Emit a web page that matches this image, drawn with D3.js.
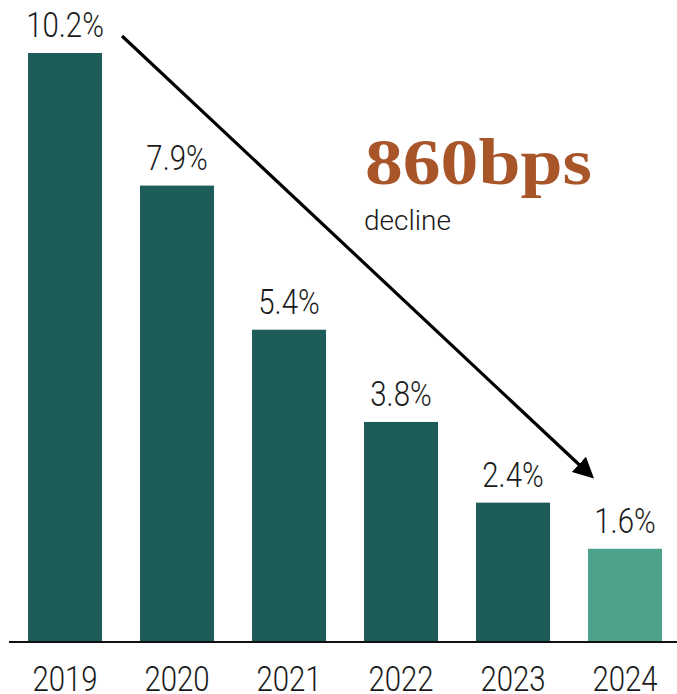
<!DOCTYPE html>
<html>
<head>
<meta charset="utf-8">
<script src="https://cdn.jsdelivr.net/npm/d3@7"></script>
<style>
  html, body { margin: 0; padding: 0; background: #fff; }
  svg { display: block; }
  text { font-family: "Roboto", "Open Sans", sans-serif; }
</style>
</head>
<body>
<svg id="chart" width="677" height="694"></svg>
<script>
// Yearly rate, percent
const years = ["2019", "2020", "2021", "2022", "2023", "2024"];
const rates = [10.2, 7.9, 5.4, 3.8, 2.4, 1.6];
const valueLabels = ["10.2%", "7.9%", "5.4%", "3.8%", "2.4%", "1.6%"];
const headline = "860bps";
const subline = "decline";

const labelSize = 35;
const labelSqueeze = 0.84; // narrow the light sans horizontally
const svg = d3.select("#chart");

const x = d3.scaleBand()
  .domain(years)
  .range([28, 662])
  .paddingInner(0.339)
  .paddingOuter(0);

const y = d3.scaleLinear()
  .domain([0, 10.2])
  .range([641, 53]);

const data = years.map((yr, i) => ({ year: yr, value: rates[i], label: valueLabels[i] }));
const cx = d => x(d.year) + x.bandwidth() / 2;

// Bars: latest year highlighted in a lighter green
svg.append("g").selectAll("rect")
  .data(data)
  .join("rect")
  .attr("x", d => x(d.year))
  .attr("y", d => y(d.value))
  .attr("width", x.bandwidth())
  .attr("height", d => y(0) - y(d.value))
  .attr("fill", (d, i) => i === data.length - 1 ? "#4da28c" : "#1e5c59");

// Value labels above bars
svg.append("g").selectAll("text")
  .data(data)
  .join("text")
  .attr("transform", d => `translate(${cx(d)},${y(d.value) - 16}) scale(${labelSqueeze},1)`)
  .attr("text-anchor", "middle")
  .attr("font-size", labelSize)
  .attr("font-weight", 300)
  .attr("fill", "#1a1a1a")
  .text(d => d.label);

// Year labels under the baseline
svg.append("g").selectAll("text")
  .data(x.domain())
  .join("text")
  .attr("transform", d => `translate(${x(d) + x.bandwidth() / 2},${y(0) + 50}) scale(${labelSqueeze},1)`)
  .attr("text-anchor", "middle")
  .attr("font-size", labelSize)
  .attr("font-weight", 300)
  .attr("fill", "#1a1a1a")
  .text(d => d);

svg.append("line")
  .attr("x1", 9).attr("x2", 677)
  .attr("y1", y(0) + 1).attr("y2", y(0) + 1)
  .attr("stroke", "#111")
  .attr("stroke-width", 2);

// Decline arrow from first to last year
const defs = svg.append("defs");
defs.append("marker")
  .attr("id", "arrowhead")
  .attr("viewBox", "0 0 10 10")
  .attr("refX", 8).attr("refY", 5)
  .attr("markerWidth", 6.5).attr("markerHeight", 6.5)
  .attr("markerUnits", "strokeWidth")
  .attr("orient", "auto")
  .append("path")
  .attr("d", "M0,0 L10,5 L0,10 Z")
  .attr("fill", "#000");

const first = data[0], last = data[data.length - 1];
svg.append("line")
  .attr("x1", x(first.year) + x.bandwidth() + 20)
  .attr("y1", y(first.value) - 17)
  .attr("x2", x(last.year) + x.bandwidth() / 2 - 34)
  .attr("y2", y(last.value) - 73)
  .attr("stroke", "#000")
  .attr("stroke-width", 3.2)
  .attr("marker-end", "url(#arrowhead)");

// Headline annotation
svg.append("text")
  .attr("x", 365)
  .attr("y", 184)
  .attr("font-size", 65)
  .attr("font-weight", 700)
  .attr("fill", "#a8552a")
  .attr("textLength", 227)
  .attr("lengthAdjust", "spacingAndGlyphs")
  .style("font-family", "'Liberation Serif', 'DejaVu Serif', serif")
  .text(headline);

svg.append("text")
  .attr("x", 364)
  .attr("y", 230)
  .attr("font-size", 28)
  .attr("font-weight", 300)
  .attr("fill", "#1a1a1a")
  .text(subline);
</script>
</body>
</html>
